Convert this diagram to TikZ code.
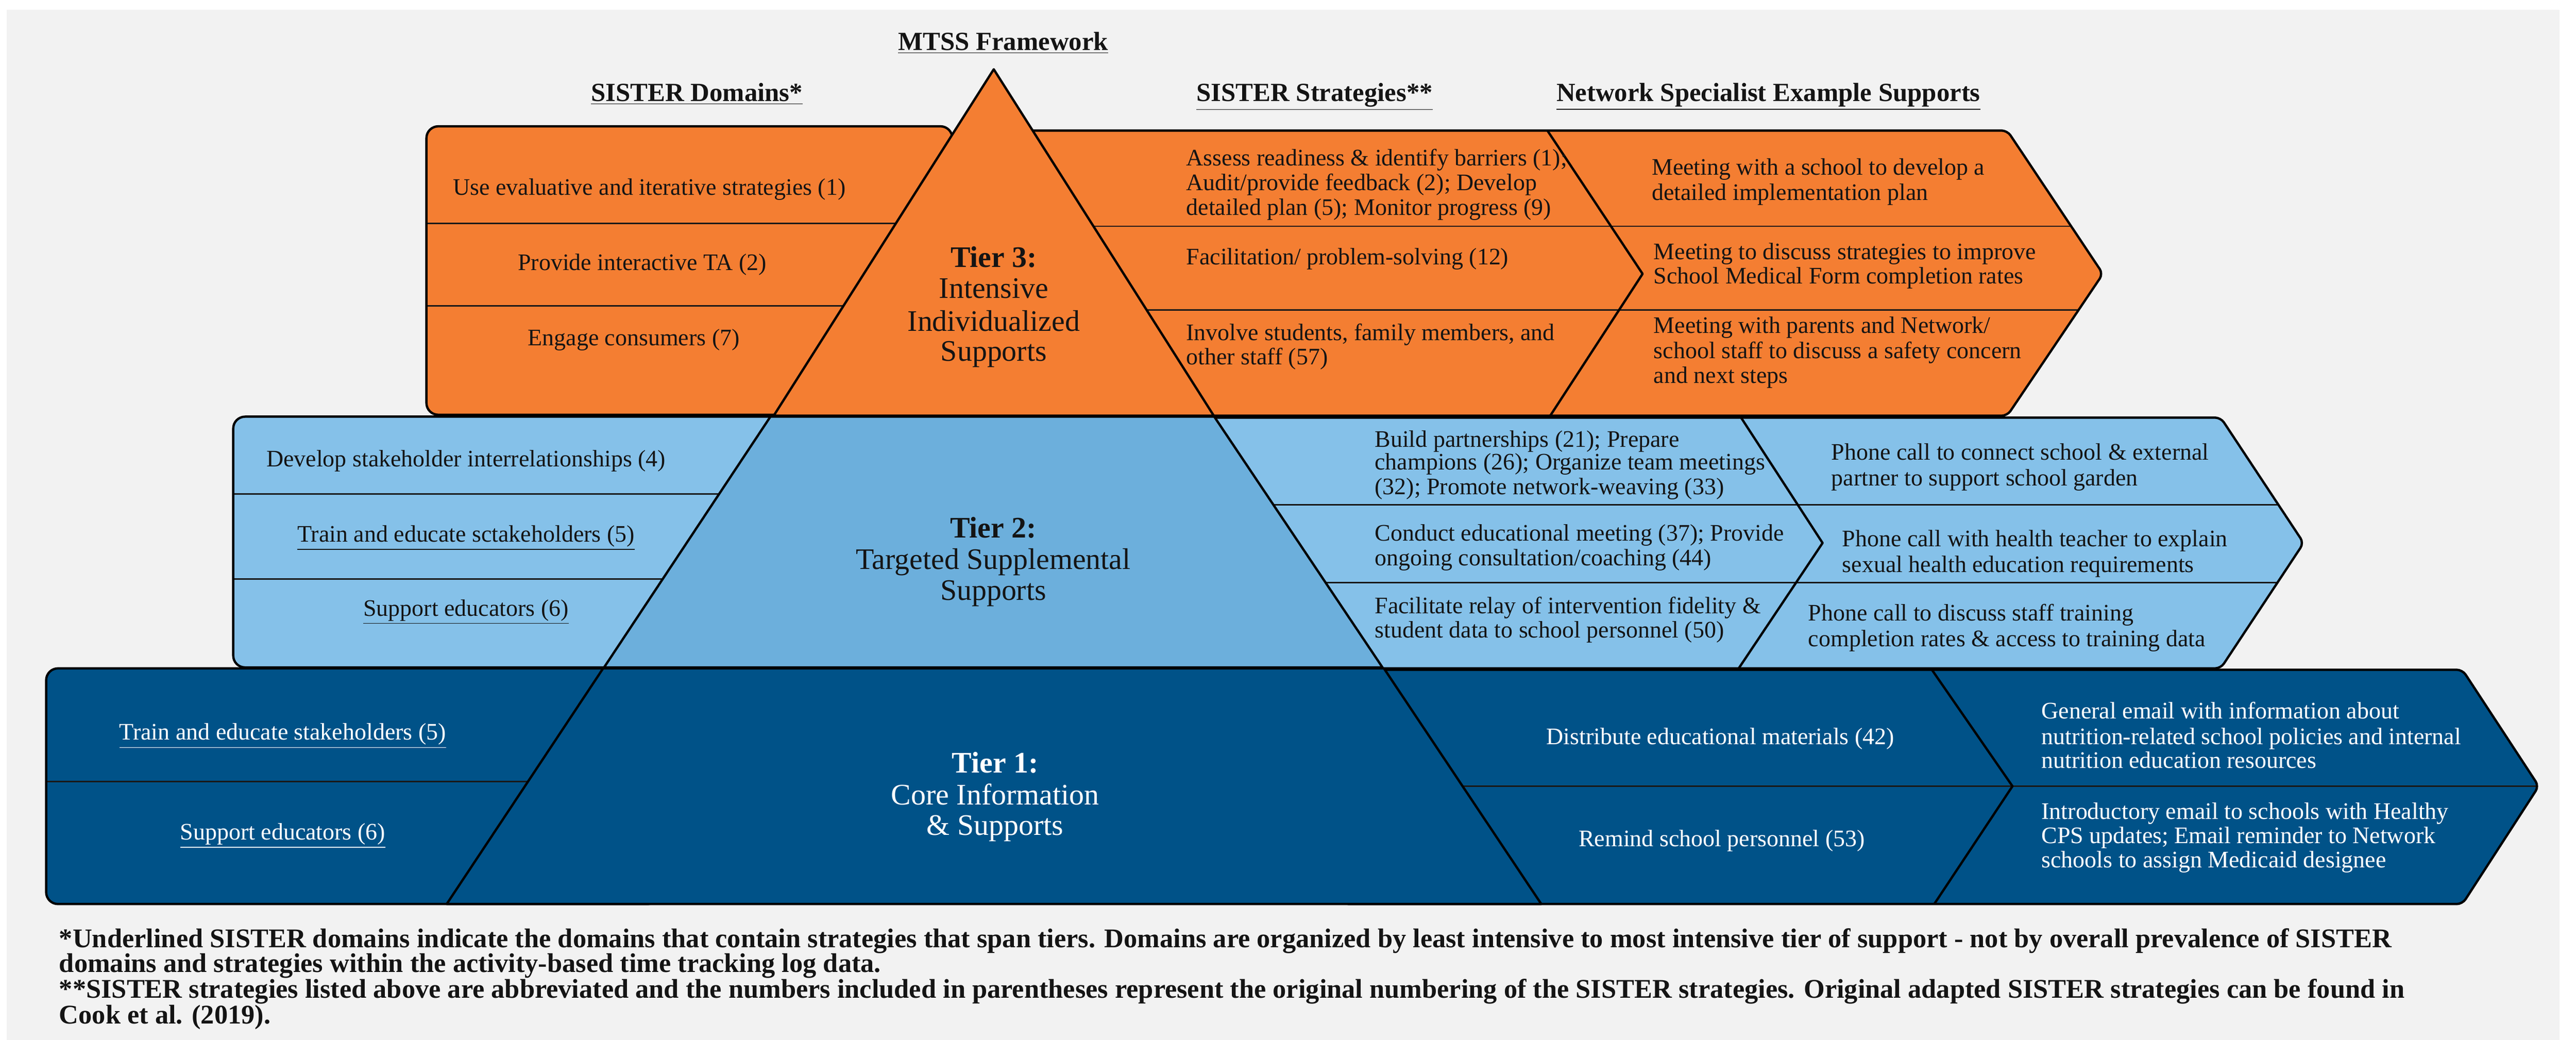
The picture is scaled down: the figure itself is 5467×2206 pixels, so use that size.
\documentclass[tikz,border=0pt]{standalone}
\usepackage{fontspec}
\setmainfont{Liberation Serif}
\definecolor{bgray}{HTML}{F2F2F2}
\definecolor{torange}{HTML}{F47E32}
\definecolor{lblue}{HTML}{85C1E9}
\definecolor{mblue}{HTML}{6CAFDC}
\definecolor{dblue}{HTML}{005288}
\definecolor{ink}{HTML}{141414}
\tikzset{
 boxline/.style={draw=black, line width=1.4pt, line join=round},
 sepline/.style={draw=black!90, line width=0.9pt},
 bodytxt/.style={font=\fontsize{14.3}{15.4}\selectfont, inner sep=0pt, text=ink},
 lw/.style={bodytxt, anchor=base west},
 lc/.style={bodytxt, anchor=base},
 headtxt/.style={font=\fontsize{15.8}{17}\selectfont\bfseries, inner sep=0pt, anchor=base, text=ink},
 tiertxt/.style={font=\fontsize{18}{19}\selectfont, inner sep=0pt, anchor=base, text=ink},
 foottxt/.style={font=\fontsize{16.3}{17}\selectfont\bfseries, inner sep=0pt, anchor=base west, text=ink},
 wht/.style={text=white}
}
\begin{document}
\begin{tikzpicture}[x=0.1mm,y=-0.1mm]
\useasboundingbox (0,0) rectangle (5467,2206);
\fill[white] (0,0) rectangle (5467,2206);
\fill[bgray] (14,21) rectangle (5432,2206);

% ---------- Tier 3 boxes ----------
\begin{scope}
\path[clip, rounded corners=2.5mm] (905,268) rectangle (2021,880);
\fill[torange] (905,268) rectangle (2021,880);
\draw[sepline] (905,474) -- (2021,474);
\draw[sepline] (905,649) -- (2021,649);
\end{scope}
\draw[boxline, rounded corners=2.5mm] (905,268) rectangle (2021,880);

\begin{scope}
\path[clip, rounded corners=1.2mm] (2150,277) -- (4260,277) -- (4463,581) -- (4260,882) -- (2150,882) -- cycle;
\fill[torange] (2150,277) rectangle (4500,882);
\draw[sepline] (2150,480) -- (4500,480);
\draw[sepline] (2150,658) -- (4500,658);
\end{scope}
\draw[boxline, rounded corners=1.2mm] (2150,277) -- (4260,277) -- (4463,581) -- (4260,882) -- (2150,882) -- cycle;
\draw[boxline] (3284,277) -- (3486,581) -- (3290,882);

% ---------- Tier 2 boxes ----------
\begin{scope}
\path[clip, rounded corners=2.5mm] (495,884) rectangle (1700,1416);
\fill[lblue] (495,884) rectangle (1700,1416);
\draw[sepline] (495,1048) -- (1700,1048);
\draw[sepline] (495,1228) -- (1700,1228);
\end{scope}
\draw[boxline, rounded corners=2.5mm] (495,884) rectangle (1700,1416);

\begin{scope}
\path[clip, rounded corners=1.2mm] (2500,886) -- (4713,886) -- (4889,1152) -- (4713,1418) -- (2500,1418) -- cycle;
\fill[lblue] (2500,886) rectangle (4900,1418);
\draw[sepline] (2500,1071) -- (4900,1071);
\draw[sepline] (2500,1236) -- (4900,1236);
\end{scope}
\draw[boxline, rounded corners=1.2mm] (2500,886) -- (4713,886) -- (4889,1152) -- (4713,1418) -- (2500,1418) -- cycle;
\draw[boxline] (3695,886) -- (3868,1152) -- (3690,1418);

% ---------- Tier 1 boxes ----------
\begin{scope}
\path[clip, rounded corners=2.5mm] (98,1418) rectangle (1400,1918);
\fill[dblue] (98,1418) rectangle (1400,1918);
\draw[sepline] (98,1658) -- (1400,1658);
\end{scope}
\draw[boxline, rounded corners=2.5mm] (98,1418) rectangle (1400,1918);

\begin{scope}
\path[clip, rounded corners=1.2mm] (2850,1421) -- (5226,1421) -- (5388,1668) -- (5226,1918) -- (2850,1918) -- cycle;
\fill[dblue] (2850,1421) rectangle (5400,1918);
\draw[sepline] (2850,1668) -- (5400,1668);
\end{scope}
\draw[boxline, rounded corners=1.2mm] (2850,1421) -- (5226,1421) -- (5388,1668) -- (5226,1918) -- (2850,1918) -- cycle;
\draw[boxline] (4100,1421) -- (4271,1668) -- (4105,1918);

% ---------- MTSS pyramid ----------
\draw[boxline, fill=torange] (2109,147) -- (2576,882) -- (1642,882) -- cycle;
\draw[boxline, fill=mblue] (1635,884) -- (2577,884) -- (2934,1416) -- (1282,1416) -- cycle;
\draw[boxline, fill=dblue] (1280,1418) -- (2937,1418) -- (3271,1918) -- (948,1918) -- cycle;

% ---------- Headings ----------
\node[headtxt] (hmtss) at (2129,107) {\underline{MTSS Framework}};
\node[headtxt] (hdom) at (1479,215) {\underline{SISTER Domains*}};
\node[headtxt] (hstr) at (2790,215) {\underline{SISTER Strategies**}};
\node[headtxt] (hnet) at (3753,215) {\underline{Network Specialist Example Supports}};

% ---------- Tier 3 texts ----------
\node[lc] (d31) at (1378,414) {Use evaluative and iterative strategies (1)};
\node[lc] (d32) at (1363,574) {Provide interactive TA (2)};
\node[lc] (d33) at (1345,733) {Engage consumers (7)};

\node[tiertxt, font=\fontsize{18}{19}\selectfont\bfseries] (t3a) at (2109,567) {Tier 3:};
\node[tiertxt] (t3b) at (2109,633) {Intensive};
\node[tiertxt] (t3c) at (2109,702) {Individualized};
\node[tiertxt] (t3d) at (2109,766) {Supports};

\node[lw] (s31a) at (2517,351) {Assess readiness \& identify barriers (1);};
\node[lw] (s31b) at (2517,404) {Audit/provide feedback (2); Develop};
\node[lw] (s31c) at (2517,456) {detailed plan (5); Monitor progress (9)};
\node[lw] (s32a) at (2517,561) {Facilitation/ problem-solving (12)};
\node[lw] (s33a) at (2517,722) {Involve students, family members, and};
\node[lw] (s33b) at (2517,774) {other staff (57)};

\node[lw] (n31a) at (3505,371) {Meeting with a school to develop a};
\node[lw] (n31b) at (3505,425) {detailed implementation plan};
\node[lw] (n32a) at (3509,550) {Meeting to discuss strategies to improve};
\node[lw] (n32b) at (3509,602) {School Medical Form completion rates};
\node[lw] (n33a) at (3509,707) {Meeting with parents and Network/};
\node[lw] (n33b) at (3509,760) {school staff to discuss a safety concern};
\node[lw] (n33c) at (3509,813) {and next steps};

% ---------- Tier 2 texts ----------
\node[lc] (d21) at (989,990) {Develop stakeholder interrelationships (4)};
\node[lc] (d22) at (989,1150) {\underline{Train and educate sctakeholders (5)}};
\node[lc] (d23) at (989,1307) {\underline{Support educators (6)}};

\node[tiertxt, font=\fontsize{18}{19}\selectfont\bfseries] (t2a) at (2108,1141) {Tier 2:};
\node[tiertxt] (t2b) at (2108,1208) {Targeted Supplemental};
\node[tiertxt] (t2c) at (2108,1273) {Supports};

\node[lw] (s21a) at (2917,948) {Build partnerships (21); Prepare};
\node[lw] (s21b) at (2917,997) {champions (26); Organize team meetings};
\node[lw] (s21c) at (2917,1049) {(32); Promote network-weaving (33)};
\node[lw] (s22a) at (2917,1148) {Conduct educational meeting (37); Provide};
\node[lw] (s22b) at (2917,1200) {ongoing consultation/coaching (44)};
\node[lw] (s23a) at (2917,1302) {Facilitate relay of intervention fidelity \&};
\node[lw] (s23b) at (2917,1353) {student data to school personnel (50)};

\node[lw] (n21a) at (3886,976) {Phone call to connect school \& external};
\node[lw] (n21b) at (3886,1030) {partner to support school garden};
\node[lw] (n22a) at (3909,1160) {Phone call with health teacher to explain};
\node[lw] (n22b) at (3909,1214) {sexual health education requirements};
\node[lw] (n23a) at (3837,1317) {Phone call to discuss staff training};
\node[lw] (n23b) at (3837,1372) {completion rates \& access to training data};

% ---------- Tier 1 texts ----------
\node[lc, wht] (d11) at (600,1570) {\underline{Train and educate stakeholders (5)}};
\node[lc, wht] (d12) at (600,1782) {\underline{Support educators (6)}};

\node[tiertxt, wht, font=\fontsize{18}{19}\selectfont\bfseries] (t1a) at (2112,1640) {Tier 1:};
\node[tiertxt, wht] (t1b) at (2112,1707) {Core Information};
\node[tiertxt, wht] (t1c) at (2112,1772) {\& Supports};

\node[lc, wht] (s11) at (3651,1579) {Distribute educational materials (42)};
\node[lc, wht] (s12) at (3654,1796) {Remind school personnel (53)};

\node[lw, wht] (n11a) at (4332,1525) {General email with information about};
\node[lw, wht] (n11b) at (4332,1579) {nutrition-related school policies and internal};
\node[lw, wht] (n11c) at (4332,1630) {nutrition education resources};
\node[lw, wht] (n12a) at (4332,1738) {Introductory email to schools with Healthy};
\node[lw, wht] (n12b) at (4332,1789) {CPS updates; Email reminder to Network};
\node[lw, wht] (n12c) at (4332,1841) {schools to assign Medicaid designee};

% ---------- Footnotes ----------
\node[foottxt] (f1) at (125,2010) {*Underlined SISTER domains indicate the domains that contain strategies that span tiers. Domains are organized by least intensive to most intensive tier of support - not by overall prevalence of SISTER};
\node[foottxt] (f2) at (125,2063) {domains and strategies within the activity-based time tracking log data.};
\node[foottxt] (f3) at (125,2117) {**SISTER strategies listed above are abbreviated and the numbers included in parentheses represent the original numbering of the SISTER strategies. Original adapted SISTER strategies can be found in};
\node[foottxt] (f4) at (125,2172) {Cook et al. (2019).};
\end{tikzpicture}
\end{document}
